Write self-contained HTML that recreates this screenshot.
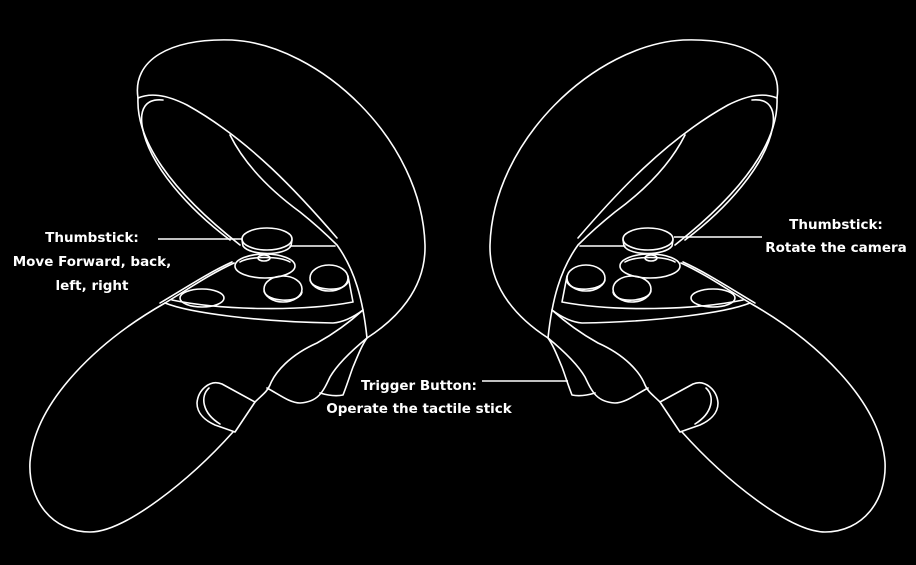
<!DOCTYPE html>
<html><head><meta charset="utf-8"><style>
html,body{margin:0;padding:0;background:#000;}
svg{display:block}
text{font-family:"DejaVu Sans","Liberation Sans",sans-serif;font-weight:bold;font-size:13.5px;fill:#fff;text-anchor:middle}
</style></head><body>
<svg width="916" height="565" viewBox="0 0 916 565">
<rect width="916" height="565" fill="#000"/>
<defs>
<g id="ctrl" fill="none" stroke="#fff" stroke-width="1.6" stroke-linejoin="round" stroke-linecap="round">
  <!-- outer ring + trigger -->
  <path d="M 138 98 C 132 60, 170 38, 232 40 C 320 45, 422 140, 425 245 C 426 290, 395 320, 367 338 C 350 352, 337 365, 330 377 C 323 392, 318 402, 300 403 C 290 403, 280 395, 267 388"/>
  <path d="M 320 393 C 330 396, 338 396, 343 395 C 347 385, 350 375, 353 367 C 358 355, 362 345, 367 338"/>
  <!-- ring inner edge (outer line) -->
  <path d="M 138 98 C 136 140, 170 190, 240 245"/>
  <!-- cross line and inner loop -->
  <path d="M 138 98 C 150 93, 165 94, 187 105 C 250 140, 300 195, 337 238"/>
  <path d="M 163 100 C 145 98, 140 110, 142 125 C 148 165, 190 210, 230 240"/>
  <!-- split line -->
  <path d="M 230 135 C 245 165, 270 190, 300 212 C 320 228, 330 238, 337 245 C 355 270, 363 300, 367 338"/>
  <line x1="290" y1="246" x2="335" y2="246"/>
  <!-- handle -->
  <path d="M 233 432 C 190 480, 125 532, 90 532 C 52 532, 28 500, 30 462 C 35 400, 100 340, 165 303 C 190 288, 210 274, 234 263"/>
  <path d="M 255 402 C 262 395, 267 392, 270 385 C 275 372, 290 355, 317 343 C 335 333, 352 320, 363 310"/>
  <!-- grip button -->
  <path d="M 235 432 L 255 402 L 222 384 C 210 379, 198 390, 197 403 C 197 414, 206 421, 215 425 Z"/>
  <path d="M 209 388 C 200 396, 202 413, 220 424"/>
  <!-- face plate -->
  <path d="M 165 303 C 190 313, 260 322, 333 323 C 345 322, 355 316, 363 310"/>
  <path d="M 172 300 C 220 310, 300 312, 353 302 L 348 276"/>
  <path d="M 160 303 C 190 285, 210 272, 232 262"/>
  <!-- thumbstick -->
  <ellipse cx="267" cy="239" rx="25" ry="11"/>
  <path d="M 242 240 L 243 246 C 250 256, 285 256, 291 246 L 292 240"/>
  <ellipse cx="265" cy="266" rx="30" ry="12"/>
  <path d="M 240 262 C 250 256, 280 256, 290 262"/>
  <ellipse cx="264" cy="258" rx="6" ry="3"/>
  <!-- buttons -->
  <ellipse cx="283" cy="289" rx="19" ry="13"/>
  <path d="M 264 291 C 266 302, 300 304, 302 292"/>
  <ellipse cx="329" cy="278" rx="19" ry="13"/>
  <path d="M 310 280 C 312 291, 346 293, 348 281"/>
  <ellipse cx="202" cy="298" rx="22" ry="9"/>
</g>
</defs>
<use href="#ctrl"/>
<use href="#ctrl" transform="translate(915,0) scale(-1,1)"/>
<g stroke="#fff" stroke-width="1.6">
  <line x1="158" y1="239" x2="242" y2="239"/>
  <line x1="674" y1="237" x2="762" y2="237"/>
  <line x1="482" y1="381" x2="568" y2="381"/>
</g>
<g>
  <text x="92" y="242">Thumbstick:</text>
  <text x="92" y="266">Move Forward, back,</text>
  <text x="92" y="290">left, right</text>
</g>
<g>
  <text x="836" y="229">Thumbstick:</text>
  <text x="836" y="252">Rotate the camera</text>
</g>
<g>
  <text x="419" y="390">Trigger Button:</text>
  <text x="419" y="413">Operate the tactile stick</text>
</g>
</svg>
</body></html>
